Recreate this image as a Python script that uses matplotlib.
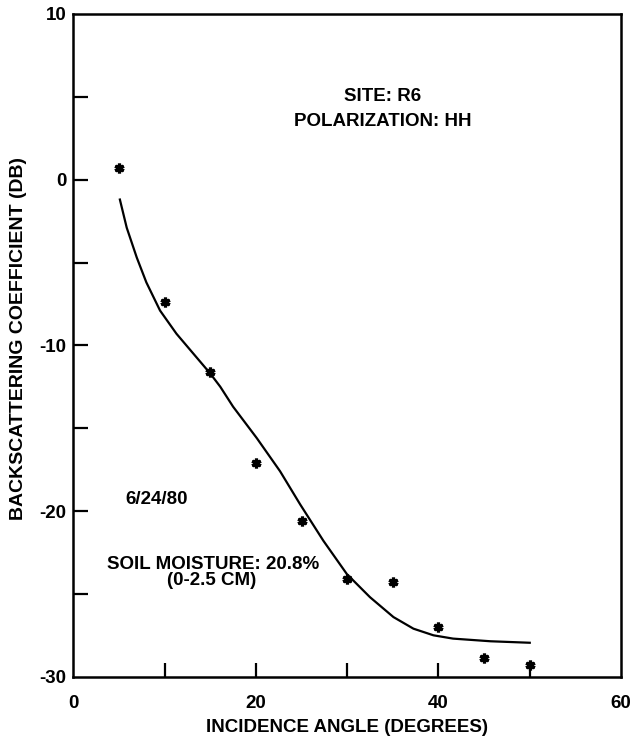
import matplotlib
matplotlib.use("Agg")
import matplotlib.pyplot as plt

plt.rcParams['font.family'] = ['Liberation Sans', 'DejaVu Sans']

# Measured backscatter (dB) vs incidence angle (deg)
angle = [5, 10, 15, 20, 25, 30, 35, 40, 45, 50]
sigma0 = [0.7, -7.4, -11.6, -17.1, -20.6, -24.1, -24.3, -27.0, -28.9, -29.3]

# Fitted curve through the measurements
fit_angle = [5.1, 5.85, 6.95, 8.0, 9.5, 11.3, 13.15, 15.0, 16.1, 17.5, 20.1, 22.65,
             24.85, 27.4, 29.96, 32.5, 35.07, 37.26, 39.45, 41.6, 45.7, 50.0]
fit_sigma0 = [-1.2, -2.9, -4.7, -6.2, -7.9, -9.3, -10.5, -11.7, -12.5, -13.7, -15.6, -17.6,
              -19.6, -21.8, -23.8, -25.2, -26.4, -27.1, -27.5, -27.7, -27.86, -27.95]

xticks_major = [0, 20, 40, 60]
xticks_minor = [10, 30, 50]
yticks_major = [-30, -20, -10, 0, 10]
yticks_minor = [-25, -15, -5, 5]

fig = plt.figure(figsize=(6.31, 7.43), dpi=100)
ax = fig.add_axes([0.1162, 0.0892, 0.9842 - 0.1162, 0.9812 - 0.0892])

ax.plot(fit_angle, fit_sigma0, color='black', lw=1.6, solid_joinstyle='round')
ax.plot(angle, sigma0, linestyle='none', marker=(6, 2, 0), ms=7, mew=2.3,
        color='black')

ax.set_xlim(0, 60)
ax.set_ylim(-30, 10)

ax.set_xticks(xticks_major)
ax.set_xticks(xticks_minor, minor=True)
ax.set_yticks(yticks_major)
ax.set_yticks(yticks_minor, minor=True)
ax.set_xticklabels([str(v) for v in xticks_major], fontweight='bold')
ax.set_yticklabels([str(v) for v in yticks_major], fontweight='bold')

ax.tick_params(axis='x', which='both', direction='in', length=10, width=1.6,
               pad=13, labelsize=13.5, top=False)
ax.tick_params(axis='y', which='both', direction='in', length=11, width=1.6,
               pad=5, labelsize=13.5, right=False)
# ticks at the frame corners coincide with the spines
ax.xaxis.get_major_ticks()[0].tick1line.set_visible(False)
ax.xaxis.get_major_ticks()[-1].tick1line.set_visible(False)
ax.yaxis.get_major_ticks()[0].tick1line.set_visible(False)
ax.yaxis.get_major_ticks()[-1].tick1line.set_visible(False)

for s in ax.spines.values():
    s.set_linewidth(1.8)

ax.set_xlabel('INCIDENCE ANGLE (DEGREES)', fontsize=13.5, fontweight='bold', labelpad=5)
ax.set_ylabel('BACKSCATTERING COEFFICIENT (DB)', fontsize=14, fontweight='bold')
ax.yaxis.set_label_coords(-0.084, 0.511)

ax.text(33.9, 5.0, 'SITE: R6', ha='center', va='center', fontsize=13.5,
        fontweight='bold')
ax.text(33.9, 3.5, 'POLARIZATION: HH', ha='center', va='center', fontsize=13.5,
        fontweight='bold')
ax.text(9.1, -19.3, '6/24/80', ha='center', va='center', fontsize=13.5,
        fontweight='bold')
ax.text(15.3, -23.2, 'SOIL MOISTURE: 20.8%', ha='center', va='center',
        fontsize=13.5, fontweight='bold')
ax.text(15.1, -24.2, '(0-2.5 CM)', ha='center', va='center', fontsize=13.5,
        fontweight='bold')

fig.savefig('out.png', dpi=100)
